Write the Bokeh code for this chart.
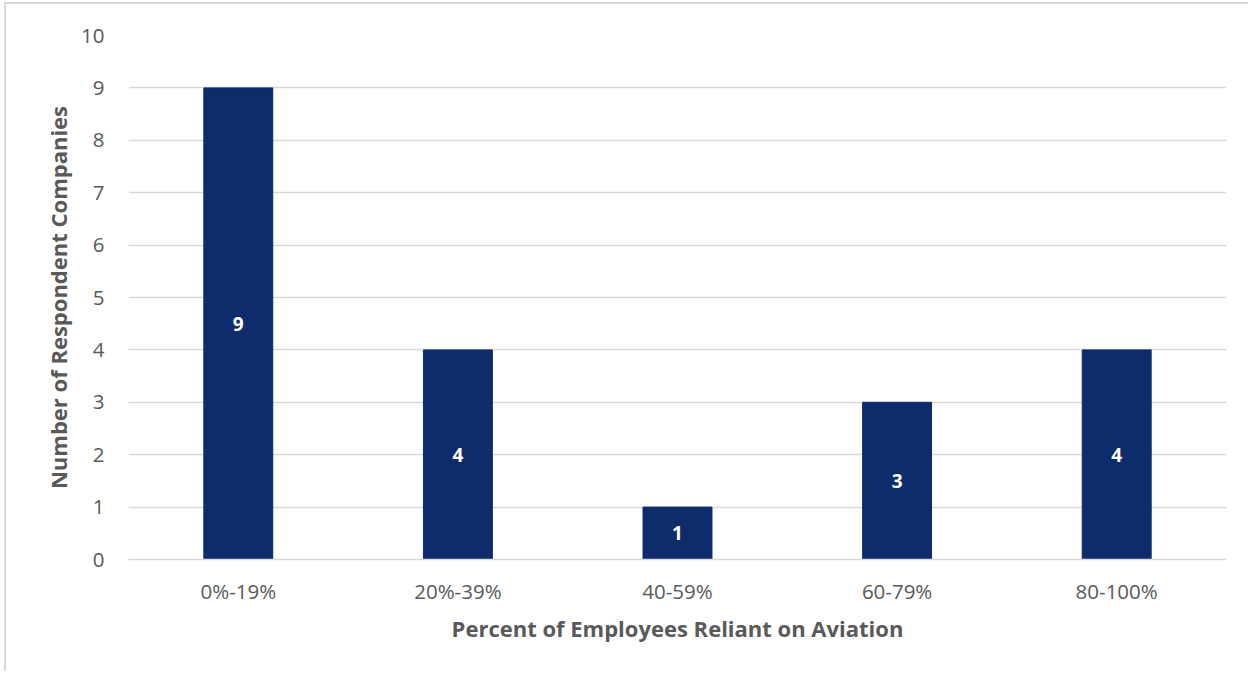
from bokeh.plotting import figure
from bokeh.models import ColumnDataSource, LabelSet, FixedTicker
from bokeh.embed import file_html
from bokeh.resources import INLINE
from bokeh.core.properties import value

categories = ["0%-19%", "20%-39%", "40-59%", "60-79%", "80-100%"]
counts = [9, 4, 1, 3, 4]
y_ticks = [0, 1, 2, 3, 4, 5, 6, 7, 8, 9, 10]

FONT = "Open Sans"
GRAY = "#595959"
BAR = "#0E2B6B"

src = ColumnDataSource(dict(cat=categories, n=counts, mid=[c / 2 for c in counts],
                            lab=[str(c) for c in counts]))

p = figure(x_range=categories, y_range=(0, 10), width=1244, height=669,
           output_backend="svg", toolbar_location=None,
           min_border_left=122, min_border_right=24, min_border_top=31, min_border_bottom=114,
           margin=(4, 0, 0, 6),
           styles={"box-shadow": "-2px -2px 0 0 #d9d9d9"})
p.outline_line_color = None
p.background_fill_color = "white"
p.border_fill_color = "white"

p.vbar(x="cat", top="n", width=0.314, source=src, color=BAR)

p.add_layout(LabelSet(x="cat", y="mid", text="lab", source=src, text_color="white",
                      text_font=value(FONT), text_font_size="19px", text_font_style="bold",
                      text_align="center", text_baseline="middle"))

p.xgrid.grid_line_color = None
p.ygrid.grid_line_color = "#d9d9d9"
p.ygrid.grid_line_width = 1.5
p.yaxis.ticker = FixedTicker(ticks=y_ticks)

for ax in (p.xaxis[0], p.yaxis[0]):
    ax.major_tick_line_color = None
    ax.minor_tick_line_color = None
    ax.major_label_text_font = FONT
    ax.major_label_text_font_size = "20.5px"
    ax.major_label_text_color = GRAY
    ax.axis_label_text_font = FONT
    ax.axis_label_text_font_size = "22px"
    ax.axis_label_text_font_style = "bold"
    ax.axis_label_text_color = GRAY

p.yaxis.axis_line_color = None
p.xaxis.axis_line_color = "#d9d9d9"
p.xaxis.axis_line_width = 1.5
p.yaxis.major_label_standoff = 18
p.xaxis.major_label_standoff = 11
p.yaxis.axis_label_standoff = 5
p.xaxis.axis_label_standoff = 5
p.yaxis.axis_label = "Number of Respondent Companies"
p.xaxis.axis_label = "Percent of Employees Reliant on Aviation"

open("out.html", "w").write(file_html(p, INLINE))
